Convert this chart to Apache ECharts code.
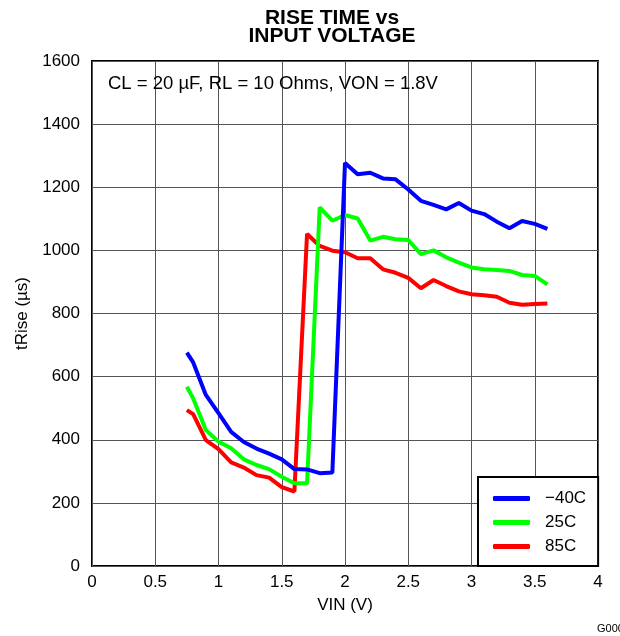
<!DOCTYPE html>
<html>
<head>
<meta charset="utf-8">
<script src="https://cdn.jsdelivr.net/npm/echarts@6/dist/echarts.min.js"></script>
<style>
  html, body { margin: 0; padding: 0; background: #fff; }
  #chart { width: 620px; height: 636px; }
</style>
</head>
<body>
<div id="chart"></div>
<script>
// Input voltage sweep (V)
const vin = [0.75, 0.8, 0.9, 1.0, 1.1, 1.2, 1.3, 1.4, 1.5, 1.6, 1.7, 1.8, 1.9, 2.0, 2.1,
             2.2, 2.3, 2.4, 2.5, 2.6, 2.7, 2.8, 2.9, 3.0, 3.1, 3.2, 3.3, 3.4, 3.5, 3.6];

// Rise time (µs) per temperature
const riseM40 = [676, 645, 542, 484, 425, 393, 372, 356, 338, 307, 306, 294, 296, 1277, 1241,
                 1246, 1228, 1225, 1193, 1157, 1144, 1130, 1150, 1126, 1115, 1091, 1070, 1093, 1084, 1068];
const rise25  = [568, 531, 431, 394, 373, 338, 320, 307, 283, 262, 262, 1136, 1094, 1112, 1101,
                 1031, 1043, 1035, 1033, 988, 1000, 978, 961, 946, 940, 938, 935, 922, 919, 892];
const rise85  = [494, 481, 399, 370, 328, 312, 288, 280, 250, 236, 1052, 1014, 999, 994, 975,
                 975, 940, 929, 913, 880, 906, 887, 870, 861, 858, 853, 834, 828, 830, 832];

const seriesNames = ['\u221240C', '25C', '85C'];
const seriesColors = ['#0000ff', '#00ff00', '#ff0000'];

const xTicks = [0, 0.5, 1, 1.5, 2, 2.5, 3, 3.5, 4];
const yTicks = [0, 200, 400, 600, 800, 1000, 1200, 1400, 1600];

const FONT = 'Liberation Sans, Arial, Helvetica, sans-serif';

function pairs(ys) {
  return vin.map((v, i) => [v, ys[i]]);
}

const chart = echarts.init(document.getElementById('chart'), null, { renderer: 'canvas' });

const lineSeries = [riseM40, rise25, rise85].map((ys, i) => ({
  name: seriesNames[i],
  type: 'line',
  data: pairs(ys),
  showSymbol: false,
  symbol: 'none',
  z: 4 - i,
  color: seriesColors[i],
  lineStyle: { color: seriesColors[i], width: 4 },
  animation: false
}));

chart.setOption({
  animation: false,
  backgroundColor: '#ffffff',
  grid: {
    left: 92, right: 22, top: 61, bottom: 70,
    show: true, borderColor: '#000', borderWidth: 2, backgroundColor: 'transparent'
  },
  xAxis: {
    type: 'value',
    min: xTicks[0], max: xTicks[xTicks.length - 1], interval: 0.5,
    name: 'VIN (V)', nameLocation: 'middle', nameGap: 31,
    nameTextStyle: { fontFamily: FONT, fontSize: 17, color: '#000' },
    axisLine: { show: false },
    axisTick: { show: false },
    axisLabel: { fontFamily: FONT, fontSize: 17, color: '#000', margin: 8,
                 formatter: v => String(v) },
    splitLine: { show: true, lineStyle: { color: '#555', width: 1 } }
  },
  yAxis: {
    type: 'value',
    min: yTicks[0], max: yTicks[yTicks.length - 1], interval: 200,
    name: 'tRise (\u00b5s)', nameLocation: 'middle', nameGap: 58,
    nameTextStyle: { fontFamily: FONT, fontSize: 17, color: '#000' },
    axisLine: { show: false },
    axisTick: { show: false },
    axisLabel: { fontFamily: FONT, fontSize: 17, color: '#000', margin: 12,
                 formatter: v => String(v) },
    splitLine: { show: true, lineStyle: { color: '#555', width: 1 } }
  },
  legend: {
    data: seriesNames,
    orient: 'vertical',
    left: 478, top: 477,
    padding: [13, 12, 11, 15],
    itemGap: 7,
    itemWidth: 37, itemHeight: 5,
    icon: 'roundRect',
    borderColor: '#000', borderWidth: 2,
    backgroundColor: '#fff',
    textStyle: { fontFamily: FONT, fontSize: 17, color: '#000', padding: [0, 0, 0, 10] }
  },
  graphic: [
    {
      type: 'text', x: 332, y: 9, z: 10,
      style: {
        text: 'RISE TIME vs\nINPUT VOLTAGE',
        font: 'bold 21px ' + FONT, fill: '#000',
        textAlign: 'center', lineHeight: 18
      }
    },
    {
      type: 'text', x: 108, y: 74, z: 10,
      style: {
        text: 'CL = 20 \u00b5F, RL = 10 Ohms, VON = 1.8V',
        font: '18.5px ' + FONT, fill: '#000'
      }
    },
    {
      type: 'text', x: 597, y: 623, z: 10,
      style: { text: 'G000', font: '11px ' + FONT, fill: '#000' }
    }
  ],
  series: lineSeries
});
</script>
</body>
</html>
